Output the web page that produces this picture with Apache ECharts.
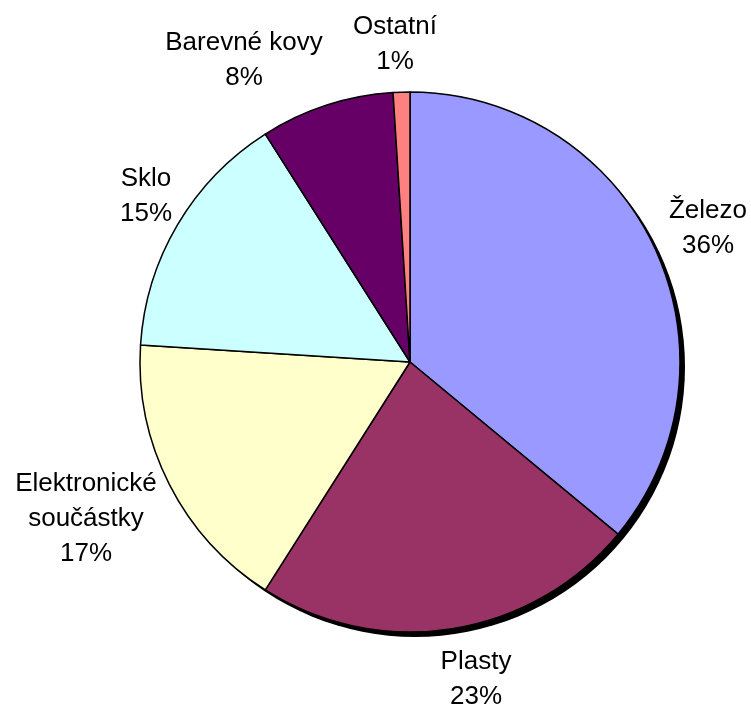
<!DOCTYPE html>
<html>
<head>
<meta charset="utf-8">
<script src="https://cdn.jsdelivr.net/npm/echarts@6/dist/echarts.min.js"></script>
<style>
html,body{margin:0;padding:0;background:#fff;}
#chart{width:751px;height:709px;}
</style>
</head>
<body>
<div id="chart"></div>
<script>
// Materiálové složení – podíly v procentech
const categories = ['Železo', 'Plasty', 'Elektronické\nsoučástky', 'Sklo', 'Barevné kovy', 'Ostatní'];
const values = [36, 23, 17, 15, 8, 1];
const colors = ['#9999FF', '#993366', '#FFFFCC', '#CCFFFF', '#660066', '#FF8080'];

// Label anchor points (centre of each text block), in px
const labelSpots = [[708, 228], [476, 679], [86, 519], [146, 196], [244, 60], [395, 44]];

const center = [410, 362];
const radius = 270;

const chart = echarts.init(document.getElementById('chart'), null, { renderer: 'canvas' });

const total = values.reduce((a, b) => a + b, 0);

chart.setOption({
  backgroundColor: '#ffffff',
  animation: false,
  series: [
    {
      // drop shadow disc behind the pie
      type: 'pie',
      silent: true,
      z: 1,
      center: [center[0] + 5, center[1] + 5],
      radius: radius,
      label: { show: false },
      labelLine: { show: false },
      itemStyle: { color: '#000000', borderWidth: 0 },
      data: [{ value: total, name: '' }]
    },
    {
      type: 'pie',
      z: 2,
      center: center,
      radius: radius,
      startAngle: 90,
      clockwise: true,
      itemStyle: { borderColor: '#000000', borderWidth: 1.5 },
      label: {
        show: true,
        position: 'outside',
        fontFamily: 'Liberation Sans, Arial, sans-serif',
        fontSize: 26,
        lineHeight: 35,
        color: '#000000',
        align: 'center',
        overflow: 'none',
        formatter: p => p.name + '\n' + Math.round(p.value / total * 100) + '%'
      },
      labelLine: { show: false },
      labelLayout: p => ({
        x: labelSpots[p.dataIndex][0],
        y: labelSpots[p.dataIndex][1],
        align: 'center',
        verticalAlign: 'middle',
        hideOverlap: false
      }),
      data: categories.map((c, i) => ({ name: c, value: values[i], itemStyle: { color: colors[i] } }))
    }
  ]
});
</script>
</body>
</html>
